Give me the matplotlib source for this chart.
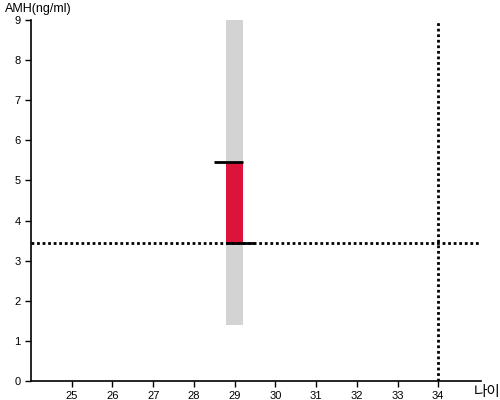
import matplotlib
matplotlib.use("Agg")
import matplotlib.pyplot as plt

plt.rcParams['font.family'] = ['Liberation Sans', 'Noto Sans CJK KR', 'DejaVu Sans']

# data
age = 29
range_low, range_high = 1.4, 9.0
iqr_low, iqr_high = 3.43, 5.45
ref_amh = 3.43
ref_age = 34
x_ticks = [25, 26, 27, 28, 29, 30, 31, 32, 33, 34]
y_ticks = [0, 1, 2, 3, 4, 5, 6, 7, 8, 9]

fig = plt.figure(figsize=(5, 4), dpi=100)
ax = fig.add_axes([0.062, 0.0475, 0.9, 0.9025])

ax.bar([age], [range_high - range_low], bottom=[range_low], width=0.4,
       color='#d3d3d3', zorder=1)
ax.bar([age], [iqr_high - iqr_low], bottom=[iqr_low], width=0.4,
       color='#dc143c', zorder=2)
ax.hlines(iqr_high, age - 0.5, age + 0.2, color='black', lw=2, zorder=3)
ax.hlines(iqr_low, age - 0.2, age + 0.5, color='black', lw=2, zorder=3)

ax.axhline(ref_amh, color='black', lw=2, ls=(0, (1, 1)), zorder=4)
ax.axvline(ref_age, color='black', lw=2, ls=(0, (1, 1)), zorder=4)

ax.set_xlim(24, 35.05)
ax.set_ylim(0, 9)
ax.set_xticks(x_ticks)
ax.set_yticks(y_ticks)
ax.tick_params(labelsize=8, length=4, width=1)
for s in ['top', 'right']:
    ax.spines[s].set_visible(False)
for s in ['left', 'bottom']:
    ax.spines[s].set_linewidth(1.2)

fig.text(0.01, 0.978, 'AMH(ng/ml)', fontsize=9, ha='left', va='center')
fig.text(0.948, 0.02, '나이', fontsize=10.5, ha='left', va='center')

fig.savefig('out.png', dpi=100)
